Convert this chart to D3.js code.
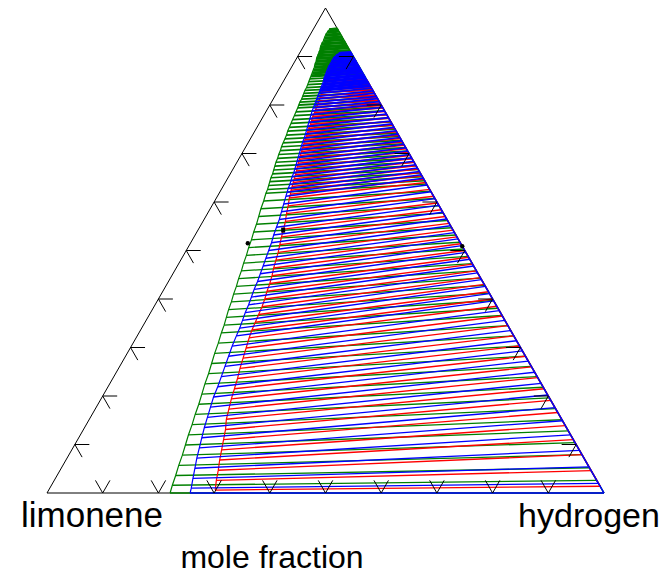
<!DOCTYPE html>
<html>
<head>
<meta charset="utf-8">
<script src="https://cdn.jsdelivr.net/npm/d3@7"></script>
<style>
  body { margin: 0; background: #fff; }
  text { font-family: "Liberation Sans", Arial, sans-serif; fill: #000; }
</style>
</head>
<body>
<svg width="664" height="582"></svg>
<script>
// ternary: H2 = hydrogen fraction (bottom right), Top = fraction of top component
var tickFractions = [0.1, 0.2, 0.3, 0.4, 0.5, 0.6, 0.7, 0.8, 0.9];
var axisLabels = ["limonene", "hydrogen", "mole fraction"];

// green tie lines: liquid end (H2, Top) -> vapour end on the right side (Top)
var greenLiqTop = [0.000,0.016,0.036,0.057,0.078,0.099,0.120,0.141,0.162,0.183,0.204,0.225,0.246,0.267,0.288,0.309,0.330,
  0.346,0.362,0.378,0.394,0.410,0.426,0.442,0.458,0.474,0.490,0.506,0.522,0.538,0.554,0.570,0.586,0.602,0.618,
  0.626,0.634,0.642,0.650,0.658,0.666,0.674,0.682,0.690,0.698,0.706,0.714,0.722,0.730,0.738,0.746,0.754,0.762,0.770,0.778,0.786,0.794,
  0.800,0.806,0.812,0.818,0.824,0.830,0.836,0.842,0.848,0.854,0.860,0.866,0.872,0.878,0.884,0.890,0.896,0.902,0.908,0.914,0.920,0.926,0.932,0.938,0.944,0.950,0.955];
var greenLiqH2 = [0.221,0.217,0.213,0.208,0.204,0.199,0.194,0.190,0.185,0.181,0.176,0.171,0.167,0.162,0.157,0.153,0.148,
  0.145,0.141,0.137,0.134,0.130,0.127,0.123,0.120,0.116,0.113,0.109,0.106,0.102,0.099,0.095,0.091,0.088,0.084,
  0.083,0.081,0.079,0.077,0.076,0.074,0.072,0.070,0.069,0.067,0.066,0.064,0.063,0.062,0.061,0.059,0.058,0.057,0.056,0.055,0.054,0.053,
  0.052,0.051,0.051,0.050,0.049,0.048,0.048,0.047,0.046,0.045,0.044,0.043,0.042,0.041,0.039,0.038,0.036,0.035,0.034,0.033,0.031,0.030,0.030,0.029,0.028,0.028,0.029];
var greenVapTop = [0.000,0.026,0.052,0.079,0.104,0.128,0.151,0.174,0.196,0.218,0.240,0.261,0.282,0.303,0.324,0.345,0.366,
  0.381,0.397,0.412,0.428,0.443,0.458,0.473,0.488,0.503,0.517,0.532,0.547,0.562,0.577,0.592,0.607,0.622,0.637,
  0.644,0.652,0.660,0.667,0.675,0.682,0.690,0.697,0.705,0.712,0.720,0.727,0.735,0.742,0.750,0.758,0.765,0.773,0.780,0.788,0.795,0.803,
  0.809,0.815,0.820,0.826,0.832,0.837,0.843,0.849,0.854,0.860,0.866,0.872,0.877,0.883,0.889,0.895,0.900,0.906,0.912,0.918,0.923,0.929,0.935,0.940,0.946,0.952,0.957];
var greenCritical = [0.030, 0.957];

var blueLiqTop = [0.000,0.010,0.030,0.051,0.072,0.093,0.114,0.135,0.156,0.177,0.198,0.219,0.240,0.261,0.282,0.303,0.324,
  0.340,0.356,0.372,0.388,0.404,0.420,0.436,0.452,0.468,0.484,0.500,0.516,0.532,0.548,0.564,0.580,0.596,0.612,
  0.620,0.628,0.636,0.644,0.652,0.660,0.668,0.676,0.684,0.692,0.700,0.708,0.716,0.724,0.732,0.740,0.748,0.756,0.764,0.772,0.780,0.788,
  0.794,0.800,0.806,0.812,0.818,0.824,0.830,0.836,0.842,0.848,0.854,0.860,0.866,0.872,0.878,0.884,0.890,0.896,0.902,0.906];
var blueLiqH2 = [0.257,0.254,0.247,0.240,0.233,0.227,0.221,0.215,0.210,0.205,0.200,0.197,0.193,0.189,0.185,0.181,0.178,
  0.176,0.173,0.170,0.168,0.165,0.162,0.160,0.157,0.154,0.151,0.148,0.145,0.141,0.138,0.135,0.131,0.127,0.123,
  0.121,0.119,0.118,0.116,0.114,0.113,0.111,0.109,0.107,0.105,0.103,0.101,0.099,0.097,0.096,0.094,0.092,0.090,0.088,0.086,0.084,0.082,
  0.081,0.080,0.079,0.078,0.077,0.076,0.075,0.074,0.073,0.072,0.070,0.069,0.068,0.067,0.066,0.066,0.066,0.066,0.068,0.071];
var blueVapTop = [0.000,0.020,0.054,0.088,0.120,0.149,0.176,0.202,0.226,0.249,0.272,0.293,0.314,0.335,0.356,0.376,0.396,
  0.411,0.426,0.440,0.454,0.468,0.482,0.496,0.510,0.524,0.537,0.551,0.565,0.579,0.593,0.607,0.621,0.635,0.649,
  0.656,0.663,0.670,0.677,0.684,0.691,0.698,0.705,0.712,0.719,0.726,0.733,0.740,0.747,0.754,0.761,0.767,0.774,0.781,0.788,0.795,0.802,
  0.807,0.813,0.818,0.824,0.829,0.835,0.840,0.846,0.851,0.857,0.862,0.868,0.873,0.878,0.884,0.889,0.894,0.900,0.905,0.908];
var blueCritical = [0.073, 0.908];

var redLiqTop = [0.006,0.026,0.047,0.068,0.089,0.110,0.131,0.152,0.173,0.194,0.215,0.236,0.257,0.278,0.299,0.320,
  0.336,0.352,0.368,0.384,0.400,0.416,0.432,0.448,0.464,0.480,0.496,0.512,0.528,0.544,0.560,0.576,0.592,0.608,
  0.616,0.624,0.632,0.640,0.648,0.656,0.664,0.672,0.680,0.688,0.696,0.704,0.712,0.720,0.728,0.736,0.744,0.752,0.760,0.768,0.776,0.784,
  0.790,0.796,0.802,0.808,0.814,0.820,0.826,0.832,0.838,0.844,0.850];
var redLiqH2 = [0.299,0.291,0.284,0.276,0.269,0.262,0.255,0.246,0.240,0.234,0.229,0.224,0.218,0.213,0.208,0.203,
  0.200,0.198,0.196,0.194,0.191,0.187,0.184,0.180,0.175,0.171,0.167,0.162,0.157,0.153,0.148,0.142,0.137,0.131,
  0.129,0.126,0.124,0.122,0.120,0.118,0.116,0.113,0.111,0.109,0.107,0.105,0.103,0.101,0.099,0.098,0.096,0.094,0.093,0.091,0.089,0.088,
  0.087,0.086,0.085,0.084,0.083,0.082,0.081,0.080,0.080,0.080,0.081];
var redVapTop = [0.014,0.046,0.079,0.110,0.139,0.166,0.191,0.215,0.238,0.260,0.282,0.303,0.324,0.345,0.365,0.385,
  0.400,0.415,0.430,0.444,0.458,0.472,0.486,0.500,0.514,0.528,0.542,0.556,0.570,0.584,0.598,0.612,0.626,0.640,
  0.647,0.654,0.661,0.668,0.675,0.682,0.689,0.696,0.703,0.710,0.717,0.724,0.731,0.738,0.745,0.752,0.759,0.766,0.773,0.780,0.787,0.794,
  0.799,0.804,0.810,0.815,0.820,0.825,0.831,0.836,0.841,0.846,0.851];
var redCritical = [0.082, 0.853];

// measured points
var dotH2 = [0.103, 0.491];
var dotTop = [0.515, 0.509];
var squareH2 = [0.153];
var squareTop = [0.542];

var svg = d3.select("svg");
var xScale = d3.scaleLinear().domain([0, 1]).range([47, 604]);
var yScale = d3.scaleLinear().domain([0, 1]).range([493, 8]);
var line = d3.line();

function pt(h2, top) {
    return [xScale(h2 + top / 2), yScale(top)];
}

// triangle frame
svg.append("path")
    .attr("d", line([pt(0, 0), pt(1, 0), pt(0, 1)]) + "Z")
    .attr("fill", "none")
    .attr("stroke", "#000")
    .attr("stroke-width", 1);

// tie lines get thicker where they crowd together near the plait point
var series = [
    {color: "#008000", liqTop: greenLiqTop, liqH2: greenLiqH2, vapTop: greenVapTop, crit: greenCritical, solidFrom: 0.855},
    {color: "#ff0000", liqTop: redLiqTop, liqH2: redLiqH2, vapTop: redVapTop, crit: redCritical, solidFrom: 1},
    {color: "#0000ff", liqTop: blueLiqTop, liqH2: blueLiqH2, vapTop: blueVapTop, crit: blueCritical, solidFrom: 0.825}
];

var widthRamp = d3.scaleLinear().domain([0.5, 0.82]).range([1.35, 1.8]).clamp(true);

function tieWidth(top, solidFrom) {
    return top > solidFrom ? 3.2 : widthRamp(top);
}

series.forEach(function (s) {
    var g = svg.append("g")
        .attr("stroke", s.color)
        .attr("fill", "none");
    var ties = s.liqTop.map(function (c, i) {
        return {liq: pt(s.liqH2[i], c), vap: pt(1 - s.vapTop[i], s.vapTop[i]), top: c};
    });
    g.selectAll("line")
        .data(ties)
        .join("line")
        .attr("x1", function (d) { return d.liq[0]; })
        .attr("y1", function (d) { return d.liq[1]; })
        .attr("x2", function (d) { return d.vap[0]; })
        .attr("y2", function (d) { return d.vap[1]; })
        .attr("stroke-width", function (d) { return tieWidth(d.top, s.solidFrom); });

    var crit = pt(s.crit[0], s.crit[1]);
    var liqCurve = ties.map(function (d) { return d.liq; }).concat([crit]);
    var vapCurve = ties.map(function (d) { return d.vap; }).concat([crit]);
    g.append("path").attr("d", line(liqCurve)).attr("stroke-width", 1.2);
    g.append("path").attr("d", line(vapCurve)).attr("stroke-width", 1.5);
});

// tick marks, arms parallel to the other two sides
var armLen = 0.026;
var tickPaths = [];
tickFractions.forEach(function (t) {
    tickPaths.push([pt(armLen, t), pt(0, t), pt(armLen, t - armLen)]);
    tickPaths.push([pt(t - armLen, armLen), pt(t, 0), pt(t, armLen)]);
    tickPaths.push([pt(1 - t - armLen, t), pt(1 - t, t), pt(1 - t, t - armLen)]);
});
svg.append("g")
    .selectAll("path")
    .data(tickPaths)
    .join("path")
    .attr("d", function (d) { return line(d); })
    .attr("fill", "none")
    .attr("stroke", "#000")
    .attr("stroke-width", 1);

// markers
svg.append("g")
    .selectAll("circle")
    .data(dotH2.map(function (h, i) { return pt(h, dotTop[i]); }))
    .join("circle")
    .attr("cx", function (d) { return d[0]; })
    .attr("cy", function (d) { return d[1]; })
    .attr("r", 2.2)
    .attr("fill", "#000");
svg.append("g")
    .selectAll("rect")
    .data(squareH2.map(function (h, i) { return pt(h, squareTop[i]); }))
    .join("rect")
    .attr("x", function (d) { return d[0] - 2; })
    .attr("y", function (d) { return d[1] - 2.5; })
    .attr("width", 4)
    .attr("height", 5)
    .attr("fill", "#000");

// labels
var labelPos = [[92, 527], [589, 527], [272, 568]];
var labelSize = [35, 34, 32];
svg.selectAll("text.label")
    .data(axisLabels)
    .join("text")
    .attr("class", "label")
    .attr("x", function (d, i) { return labelPos[i][0]; })
    .attr("y", function (d, i) { return labelPos[i][1]; })
    .attr("text-anchor", "middle")
    .attr("font-size", function (d, i) { return labelSize[i]; })
    .text(function (d) { return d; });
</script>
</body>
</html>
